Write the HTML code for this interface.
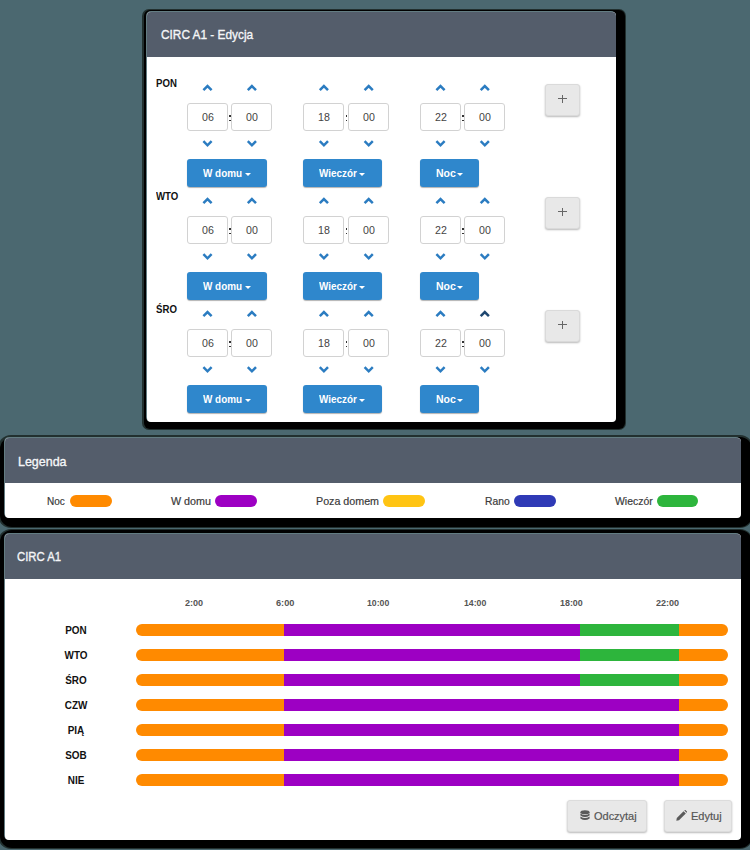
<!DOCTYPE html><html><head><meta charset="utf-8"><style>
*{box-sizing:border-box;margin:0;padding:0}
html,body{width:750px;height:850px;overflow:hidden;background:#4b6870;font-family:"Liberation Sans",sans-serif;position:relative}
div,span{position:absolute}
.t{white-space:nowrap;line-height:1;transform-origin:0 0}
.hs{-webkit-text-stroke:0.35px #f5f6f8}
.rs{-webkit-text-stroke:0.2px currentColor}
.inp{width:41px;height:27.8px;border:1px solid #d2d2d2;border-radius:3px;background:#fff}
.btn{height:28px;background:#2f87cc;border-radius:3px;box-shadow:0 1px 1px rgba(0,0,0,.30)}
.caret{width:0;height:0;border-left:3.2px solid transparent;border-right:3.2px solid transparent;border-top:3.4px solid #fff}
.plus{width:35px;height:32px;background:#e8e8e8;border:1px solid #dadada;border-radius:3px;box-shadow:0 1px 2px rgba(0,0,0,.28)}
.pill{height:12.4px;border-radius:6.2px;width:41.6px}
.bar{left:135.8px;width:592.2px;height:12.4px;border-radius:6.2px;overflow:hidden;background:#ff8a00}
.seg{top:0;height:100%}
.gbtn{height:31.5px;background:#e8e8e8;border:1px solid #dcdcdc;border-radius:3px;box-shadow:0 1px 2px rgba(0,0,0,.28)}
</style></head><body>
<div style="left:142.4px;top:8.8px;width:483.5999999999999px;height:421.0px;border-radius:7px;background:#22302f"></div>
<div style="left:143.6px;top:10px;width:481.19999999999993px;height:418.6px;border-radius:6px;background:#000"></div>
<div style="left:-1.7px;top:435.3px;width:754.9px;height:92.4px;border-radius:13px;background:#22302f"></div>
<div style="left:-0.5px;top:436.5px;width:752.5px;height:90.0px;border-radius:12px;background:#000"></div>
<div style="left:-1.7px;top:528.8px;width:754.9px;height:320.69999999999993px;border-radius:13px;background:#22302f"></div>
<div style="left:-0.5px;top:530px;width:752.5px;height:318.29999999999995px;border-radius:12px;background:#000"></div>
<div style="left:146px;top:11px;width:469.79999999999995px;height:411px;border-radius:5px;background:#637c82"></div>
<div style="left:147px;top:12px;width:468.79999999999995px;height:410px;border-radius:4px;background:#fff;overflow:hidden"><div style="left:0;top:0;width:100%;height:44.6px;background:#545d6b"></div></div>
<div style="left:4px;top:436.8px;width:737px;height:80.90000000000003px;border-radius:5px;background:#637c82"></div>
<div style="left:5px;top:437.8px;width:736px;height:79.90000000000003px;border-radius:4px;background:#fff;overflow:hidden"><div style="left:0;top:0;width:100%;height:45.39999999999998px;background:#545d6b"></div></div>
<div style="left:4px;top:532.8px;width:737px;height:307.20000000000005px;border-radius:5px;background:#637c82"></div>
<div style="left:5px;top:533.8px;width:736px;height:306.20000000000005px;border-radius:4px;background:#fff;overflow:hidden"><div style="left:0;top:0;width:100%;height:45.40000000000009px;background:#545d6b"></div></div>
<div class="inp" style="left:187px;top:103.1px"></div>
<div class="inp" style="left:231.4px;top:103.1px"></div>
<div style="left:229.4px;top:115.3px;width:1.6px;height:1.6px;background:#333"></div>
<div style="left:229.4px;top:119.6px;width:1.6px;height:1.6px;background:#333"></div>
<div class="btn" style="left:187px;top:159.2px;width:80.4px"></div>
<div class="caret" style="left:244.6px;top:173.2px"></div>
<div class="inp" style="left:303.4px;top:103.1px"></div>
<div class="inp" style="left:348.2px;top:103.1px"></div>
<div style="left:345.79999999999995px;top:115.3px;width:1.6px;height:1.6px;background:#333"></div>
<div style="left:345.79999999999995px;top:119.6px;width:1.6px;height:1.6px;background:#333"></div>
<div class="btn" style="left:303.4px;top:159.2px;width:78.6px"></div>
<div class="caret" style="left:359.2px;top:173.2px"></div>
<div class="inp" style="left:420px;top:103.1px"></div>
<div class="inp" style="left:464.3px;top:103.1px"></div>
<div style="left:462.4px;top:115.3px;width:1.6px;height:1.6px;background:#333"></div>
<div style="left:462.4px;top:119.6px;width:1.6px;height:1.6px;background:#333"></div>
<div class="btn" style="left:420px;top:159.2px;width:59px"></div>
<div class="caret" style="left:457.2px;top:173.2px"></div>
<div class="plus" style="left:545px;top:83.5px"></div>
<div style="left:558.3px;top:98.4px;width:8.3px;height:1.1px;background:#666"></div>
<div style="left:561.9px;top:94.5px;width:1.1px;height:8.5px;background:#666"></div>
<div class="inp" style="left:187px;top:216.1px"></div>
<div class="inp" style="left:231.4px;top:216.1px"></div>
<div style="left:229.4px;top:228.3px;width:1.6px;height:1.6px;background:#333"></div>
<div style="left:229.4px;top:232.6px;width:1.6px;height:1.6px;background:#333"></div>
<div class="btn" style="left:187px;top:272.2px;width:80.4px"></div>
<div class="caret" style="left:244.6px;top:286.2px"></div>
<div class="inp" style="left:303.4px;top:216.1px"></div>
<div class="inp" style="left:348.2px;top:216.1px"></div>
<div style="left:345.79999999999995px;top:228.3px;width:1.6px;height:1.6px;background:#333"></div>
<div style="left:345.79999999999995px;top:232.6px;width:1.6px;height:1.6px;background:#333"></div>
<div class="btn" style="left:303.4px;top:272.2px;width:78.6px"></div>
<div class="caret" style="left:359.2px;top:286.2px"></div>
<div class="inp" style="left:420px;top:216.1px"></div>
<div class="inp" style="left:464.3px;top:216.1px"></div>
<div style="left:462.4px;top:228.3px;width:1.6px;height:1.6px;background:#333"></div>
<div style="left:462.4px;top:232.6px;width:1.6px;height:1.6px;background:#333"></div>
<div class="btn" style="left:420px;top:272.2px;width:59px"></div>
<div class="caret" style="left:457.2px;top:286.2px"></div>
<div class="plus" style="left:545px;top:196.5px"></div>
<div style="left:558.3px;top:211.4px;width:8.3px;height:1.1px;background:#666"></div>
<div style="left:561.9px;top:207.5px;width:1.1px;height:8.5px;background:#666"></div>
<div class="inp" style="left:187px;top:329.1px"></div>
<div class="inp" style="left:231.4px;top:329.1px"></div>
<div style="left:229.4px;top:341.3px;width:1.6px;height:1.6px;background:#333"></div>
<div style="left:229.4px;top:345.6px;width:1.6px;height:1.6px;background:#333"></div>
<div class="btn" style="left:187px;top:385.2px;width:80.4px"></div>
<div class="caret" style="left:244.6px;top:399.2px"></div>
<div class="inp" style="left:303.4px;top:329.1px"></div>
<div class="inp" style="left:348.2px;top:329.1px"></div>
<div style="left:345.79999999999995px;top:341.3px;width:1.6px;height:1.6px;background:#333"></div>
<div style="left:345.79999999999995px;top:345.6px;width:1.6px;height:1.6px;background:#333"></div>
<div class="btn" style="left:303.4px;top:385.2px;width:78.6px"></div>
<div class="caret" style="left:359.2px;top:399.2px"></div>
<div class="inp" style="left:420px;top:329.1px"></div>
<div class="inp" style="left:464.3px;top:329.1px"></div>
<div style="left:462.4px;top:341.3px;width:1.6px;height:1.6px;background:#333"></div>
<div style="left:462.4px;top:345.6px;width:1.6px;height:1.6px;background:#333"></div>
<div class="btn" style="left:420px;top:385.2px;width:59px"></div>
<div class="caret" style="left:457.2px;top:399.2px"></div>
<div class="plus" style="left:545px;top:309.5px"></div>
<div style="left:558.3px;top:324.4px;width:8.3px;height:1.1px;background:#666"></div>
<div style="left:561.9px;top:320.5px;width:1.1px;height:8.5px;background:#666"></div>
<svg style="position:absolute;left:0;top:0" width="750" height="850"><polyline points="203.4,90.2 207.5,86.1 211.6,90.2" fill="none" stroke="#2b7cc1" stroke-width="2.5" stroke-linecap="butt" stroke-linejoin="miter"/><polyline points="203.4,141.20000000000002 207.5,145.3 211.6,141.20000000000002" fill="none" stroke="#2b7cc1" stroke-width="2.5" stroke-linecap="butt" stroke-linejoin="miter"/><polyline points="247.8,90.2 251.9,86.1 256.0,90.2" fill="none" stroke="#2b7cc1" stroke-width="2.5" stroke-linecap="butt" stroke-linejoin="miter"/><polyline points="247.8,141.20000000000002 251.9,145.3 256.0,141.20000000000002" fill="none" stroke="#2b7cc1" stroke-width="2.5" stroke-linecap="butt" stroke-linejoin="miter"/><polyline points="319.79999999999995,90.2 323.9,86.1 328.0,90.2" fill="none" stroke="#2b7cc1" stroke-width="2.5" stroke-linecap="butt" stroke-linejoin="miter"/><polyline points="319.79999999999995,141.20000000000002 323.9,145.3 328.0,141.20000000000002" fill="none" stroke="#2b7cc1" stroke-width="2.5" stroke-linecap="butt" stroke-linejoin="miter"/><polyline points="364.59999999999997,90.2 368.7,86.1 372.8,90.2" fill="none" stroke="#2b7cc1" stroke-width="2.5" stroke-linecap="butt" stroke-linejoin="miter"/><polyline points="364.59999999999997,141.20000000000002 368.7,145.3 372.8,141.20000000000002" fill="none" stroke="#2b7cc1" stroke-width="2.5" stroke-linecap="butt" stroke-linejoin="miter"/><polyline points="436.4,90.2 440.5,86.1 444.6,90.2" fill="none" stroke="#2b7cc1" stroke-width="2.5" stroke-linecap="butt" stroke-linejoin="miter"/><polyline points="436.4,141.20000000000002 440.5,145.3 444.6,141.20000000000002" fill="none" stroke="#2b7cc1" stroke-width="2.5" stroke-linecap="butt" stroke-linejoin="miter"/><polyline points="480.7,90.2 484.8,86.1 488.90000000000003,90.2" fill="none" stroke="#2b7cc1" stroke-width="2.5" stroke-linecap="butt" stroke-linejoin="miter"/><polyline points="480.7,141.20000000000002 484.8,145.3 488.90000000000003,141.20000000000002" fill="none" stroke="#2b7cc1" stroke-width="2.5" stroke-linecap="butt" stroke-linejoin="miter"/><polyline points="203.4,203.20000000000002 207.5,199.10000000000002 211.6,203.20000000000002" fill="none" stroke="#2b7cc1" stroke-width="2.5" stroke-linecap="butt" stroke-linejoin="miter"/><polyline points="203.4,254.20000000000002 207.5,258.3 211.6,254.20000000000002" fill="none" stroke="#2b7cc1" stroke-width="2.5" stroke-linecap="butt" stroke-linejoin="miter"/><polyline points="247.8,203.20000000000002 251.9,199.10000000000002 256.0,203.20000000000002" fill="none" stroke="#2b7cc1" stroke-width="2.5" stroke-linecap="butt" stroke-linejoin="miter"/><polyline points="247.8,254.20000000000002 251.9,258.3 256.0,254.20000000000002" fill="none" stroke="#2b7cc1" stroke-width="2.5" stroke-linecap="butt" stroke-linejoin="miter"/><polyline points="319.79999999999995,203.20000000000002 323.9,199.10000000000002 328.0,203.20000000000002" fill="none" stroke="#2b7cc1" stroke-width="2.5" stroke-linecap="butt" stroke-linejoin="miter"/><polyline points="319.79999999999995,254.20000000000002 323.9,258.3 328.0,254.20000000000002" fill="none" stroke="#2b7cc1" stroke-width="2.5" stroke-linecap="butt" stroke-linejoin="miter"/><polyline points="364.59999999999997,203.20000000000002 368.7,199.10000000000002 372.8,203.20000000000002" fill="none" stroke="#2b7cc1" stroke-width="2.5" stroke-linecap="butt" stroke-linejoin="miter"/><polyline points="364.59999999999997,254.20000000000002 368.7,258.3 372.8,254.20000000000002" fill="none" stroke="#2b7cc1" stroke-width="2.5" stroke-linecap="butt" stroke-linejoin="miter"/><polyline points="436.4,203.20000000000002 440.5,199.10000000000002 444.6,203.20000000000002" fill="none" stroke="#2b7cc1" stroke-width="2.5" stroke-linecap="butt" stroke-linejoin="miter"/><polyline points="436.4,254.20000000000002 440.5,258.3 444.6,254.20000000000002" fill="none" stroke="#2b7cc1" stroke-width="2.5" stroke-linecap="butt" stroke-linejoin="miter"/><polyline points="480.7,203.20000000000002 484.8,199.10000000000002 488.90000000000003,203.20000000000002" fill="none" stroke="#2b7cc1" stroke-width="2.5" stroke-linecap="butt" stroke-linejoin="miter"/><polyline points="480.7,254.20000000000002 484.8,258.3 488.90000000000003,254.20000000000002" fill="none" stroke="#2b7cc1" stroke-width="2.5" stroke-linecap="butt" stroke-linejoin="miter"/><polyline points="203.4,316.2 207.5,312.1 211.6,316.2" fill="none" stroke="#2b7cc1" stroke-width="2.5" stroke-linecap="butt" stroke-linejoin="miter"/><polyline points="203.4,367.2 207.5,371.3 211.6,367.2" fill="none" stroke="#2b7cc1" stroke-width="2.5" stroke-linecap="butt" stroke-linejoin="miter"/><polyline points="247.8,316.2 251.9,312.1 256.0,316.2" fill="none" stroke="#2b7cc1" stroke-width="2.5" stroke-linecap="butt" stroke-linejoin="miter"/><polyline points="247.8,367.2 251.9,371.3 256.0,367.2" fill="none" stroke="#2b7cc1" stroke-width="2.5" stroke-linecap="butt" stroke-linejoin="miter"/><polyline points="319.79999999999995,316.2 323.9,312.1 328.0,316.2" fill="none" stroke="#2b7cc1" stroke-width="2.5" stroke-linecap="butt" stroke-linejoin="miter"/><polyline points="319.79999999999995,367.2 323.9,371.3 328.0,367.2" fill="none" stroke="#2b7cc1" stroke-width="2.5" stroke-linecap="butt" stroke-linejoin="miter"/><polyline points="364.59999999999997,316.2 368.7,312.1 372.8,316.2" fill="none" stroke="#2b7cc1" stroke-width="2.5" stroke-linecap="butt" stroke-linejoin="miter"/><polyline points="364.59999999999997,367.2 368.7,371.3 372.8,367.2" fill="none" stroke="#2b7cc1" stroke-width="2.5" stroke-linecap="butt" stroke-linejoin="miter"/><polyline points="436.4,316.2 440.5,312.1 444.6,316.2" fill="none" stroke="#2b7cc1" stroke-width="2.5" stroke-linecap="butt" stroke-linejoin="miter"/><polyline points="436.4,367.2 440.5,371.3 444.6,367.2" fill="none" stroke="#2b7cc1" stroke-width="2.5" stroke-linecap="butt" stroke-linejoin="miter"/><polyline points="480.7,316.2 484.8,312.1 488.90000000000003,316.2" fill="none" stroke="#1f4770" stroke-width="2.5" stroke-linecap="butt" stroke-linejoin="miter"/><polyline points="480.7,367.2 484.8,371.3 488.90000000000003,367.2" fill="none" stroke="#2b7cc1" stroke-width="2.5" stroke-linecap="butt" stroke-linejoin="miter"/></svg>
<div class="pill" style="left:70px;top:494.6px;background:#ff8a00"></div>
<div class="pill" style="left:215.2px;top:494.6px;background:#9d00c3"></div>
<div class="pill" style="left:383.2px;top:494.6px;background:#ffc413"></div>
<div class="pill" style="left:514px;top:494.6px;background:#2f3ab6"></div>
<div class="pill" style="left:656.8px;top:494.6px;background:#2db53c"></div>
<div class="bar" style="top:624px"><div class="seg" style="left:148.05px;width:296.1px;background:#9d00c3"></div><div class="seg" style="left:444.15000000000003px;width:98.7px;background:#2db53c"></div></div>
<div class="bar" style="top:649px"><div class="seg" style="left:148.05px;width:296.1px;background:#9d00c3"></div><div class="seg" style="left:444.15000000000003px;width:98.7px;background:#2db53c"></div></div>
<div class="bar" style="top:674px"><div class="seg" style="left:148.05px;width:296.1px;background:#9d00c3"></div><div class="seg" style="left:444.15000000000003px;width:98.7px;background:#2db53c"></div></div>
<div class="bar" style="top:699px"><div class="seg" style="left:148.05px;width:394.8px;background:#9d00c3"></div></div>
<div class="bar" style="top:724px"><div class="seg" style="left:148.05px;width:394.8px;background:#9d00c3"></div></div>
<div class="bar" style="top:749px"><div class="seg" style="left:148.05px;width:394.8px;background:#9d00c3"></div></div>
<div class="bar" style="top:774px"><div class="seg" style="left:148.05px;width:394.8px;background:#9d00c3"></div></div>
<div class="gbtn" style="left:567.3px;top:800.2px;width:79.3px"></div>
<div class="gbtn" style="left:664px;top:800.2px;width:68.4px"></div>
<svg style="position:absolute;left:580px;top:809.5px" width="10" height="11" viewBox="0 0 10 11"><ellipse cx="5" cy="2.2" rx="4.6" ry="2" fill="#5a5a5a"/><path d="M0.4 3.6 Q5 6.6 9.6 3.6 V5.4 Q5 8.4 0.4 5.4Z" fill="#5a5a5a"/><path d="M0.4 6.6 Q5 9.6 9.6 6.6 V8.6 Q5 11.6 0.4 8.6Z" fill="#5a5a5a"/></svg>
<svg style="position:absolute;left:675.5px;top:809.8px" width="11" height="11" viewBox="0 0 11 11"><path d="M0.3 10.7 L0.8 8 L7.6 1.2 L9.8 3.4 L3 10.2Z" fill="#5a5a5a"/><path d="M8.3 0.5 L9.1 -0.3 L11.3 1.9 L10.5 2.7Z" fill="#5a5a5a"/></svg>
<span class="t hs" id="h1" style="left:160.6px;top:28.26px;font-size:13.4px;font-weight:normal;color:#f5f6f8;transform:scaleX(0.8846)">CIRC A1 - Edycja</span>
<span class="t hs" id="h2" style="left:17.6px;top:454.66px;font-size:13.4px;font-weight:normal;color:#f5f6f8;transform:scaleX(0.9308)">Legenda</span>
<span class="t hs" id="h3" style="left:17.2px;top:549.86px;font-size:13.4px;font-weight:normal;color:#f5f6f8;transform:scaleX(0.8462)">CIRC A1</span>
<span class="t" id="d0" style="left:156.4px;top:78.57px;font-size:10.2px;font-weight:bold;color:#111;transform:scaleX(0.9455)">PON</span>
<span class="t" id="n000" style="left:207.5px;top:111.92px;font-size:11.2px;font-weight:normal;color:#444;transform:translateX(-50%) scaleX(0.9500);transform-origin:50% 0">06</span>
<span class="t" id="n001" style="left:251.9px;top:111.92px;font-size:11.2px;font-weight:normal;color:#444;transform:translateX(-50%) scaleX(0.9500);transform-origin:50% 0">00</span>
<span class="t" id="b00" style="left:203px;top:168.43px;font-size:11.3px;font-weight:bold;color:#fff;transform:scaleX(0.8756)">W domu</span>
<span class="t" id="n010" style="left:323.9px;top:111.92px;font-size:11.2px;font-weight:normal;color:#444;transform:translateX(-50%) scaleX(0.9500);transform-origin:50% 0">18</span>
<span class="t" id="n011" style="left:368.7px;top:111.92px;font-size:11.2px;font-weight:normal;color:#444;transform:translateX(-50%) scaleX(0.9500);transform-origin:50% 0">00</span>
<span class="t" id="b01" style="left:319.4px;top:168.43px;font-size:11.3px;font-weight:bold;color:#fff;transform:scaleX(0.8744)">Wieczór</span>
<span class="t" id="n020" style="left:440.5px;top:111.92px;font-size:11.2px;font-weight:normal;color:#444;transform:translateX(-50%) scaleX(0.9500);transform-origin:50% 0">22</span>
<span class="t" id="n021" style="left:484.8px;top:111.92px;font-size:11.2px;font-weight:normal;color:#444;transform:translateX(-50%) scaleX(0.9500);transform-origin:50% 0">00</span>
<span class="t" id="b02" style="left:435.5px;top:168.43px;font-size:11.3px;font-weight:bold;color:#fff;transform:scaleX(0.9286)">Noc</span>
<span class="t" id="d1" style="left:156.4px;top:191.57px;font-size:10.2px;font-weight:bold;color:#111;transform:scaleX(0.9455)">WTO</span>
<span class="t" id="n100" style="left:207.5px;top:224.92px;font-size:11.2px;font-weight:normal;color:#444;transform:translateX(-50%) scaleX(0.9500);transform-origin:50% 0">06</span>
<span class="t" id="n101" style="left:251.9px;top:224.92px;font-size:11.2px;font-weight:normal;color:#444;transform:translateX(-50%) scaleX(0.9500);transform-origin:50% 0">00</span>
<span class="t" id="b10" style="left:203px;top:281.43px;font-size:11.3px;font-weight:bold;color:#fff;transform:scaleX(0.8756)">W domu</span>
<span class="t" id="n110" style="left:323.9px;top:224.92px;font-size:11.2px;font-weight:normal;color:#444;transform:translateX(-50%) scaleX(0.9500);transform-origin:50% 0">18</span>
<span class="t" id="n111" style="left:368.7px;top:224.92px;font-size:11.2px;font-weight:normal;color:#444;transform:translateX(-50%) scaleX(0.9500);transform-origin:50% 0">00</span>
<span class="t" id="b11" style="left:319.4px;top:281.43px;font-size:11.3px;font-weight:bold;color:#fff;transform:scaleX(0.8744)">Wieczór</span>
<span class="t" id="n120" style="left:440.5px;top:224.92px;font-size:11.2px;font-weight:normal;color:#444;transform:translateX(-50%) scaleX(0.9500);transform-origin:50% 0">22</span>
<span class="t" id="n121" style="left:484.8px;top:224.92px;font-size:11.2px;font-weight:normal;color:#444;transform:translateX(-50%) scaleX(0.9500);transform-origin:50% 0">00</span>
<span class="t" id="b12" style="left:435.5px;top:281.43px;font-size:11.3px;font-weight:bold;color:#fff;transform:scaleX(0.9286)">Noc</span>
<span class="t" id="d2" style="left:156.4px;top:304.57px;font-size:10.2px;font-weight:bold;color:#111;transform:scaleX(0.9455)">ŚRO</span>
<span class="t" id="n200" style="left:207.5px;top:337.92px;font-size:11.2px;font-weight:normal;color:#444;transform:translateX(-50%) scaleX(0.9500);transform-origin:50% 0">06</span>
<span class="t" id="n201" style="left:251.9px;top:337.92px;font-size:11.2px;font-weight:normal;color:#444;transform:translateX(-50%) scaleX(0.9500);transform-origin:50% 0">00</span>
<span class="t" id="b20" style="left:203px;top:394.43px;font-size:11.3px;font-weight:bold;color:#fff;transform:scaleX(0.8756)">W domu</span>
<span class="t" id="n210" style="left:323.9px;top:337.92px;font-size:11.2px;font-weight:normal;color:#444;transform:translateX(-50%) scaleX(0.9500);transform-origin:50% 0">18</span>
<span class="t" id="n211" style="left:368.7px;top:337.92px;font-size:11.2px;font-weight:normal;color:#444;transform:translateX(-50%) scaleX(0.9500);transform-origin:50% 0">00</span>
<span class="t" id="b21" style="left:319.4px;top:394.43px;font-size:11.3px;font-weight:bold;color:#fff;transform:scaleX(0.8744)">Wieczór</span>
<span class="t" id="n220" style="left:440.5px;top:337.92px;font-size:11.2px;font-weight:normal;color:#444;transform:translateX(-50%) scaleX(0.9500);transform-origin:50% 0">22</span>
<span class="t" id="n221" style="left:484.8px;top:337.92px;font-size:11.2px;font-weight:normal;color:#444;transform:translateX(-50%) scaleX(0.9500);transform-origin:50% 0">00</span>
<span class="t" id="b22" style="left:435.5px;top:394.43px;font-size:11.3px;font-weight:bold;color:#fff;transform:scaleX(0.9286)">Noc</span>
<span class="t rs" id="l0" style="left:47.4px;top:495.69px;font-size:11px;font-weight:normal;color:#3a3a3a;transform:scaleX(0.9100)">Noc</span>
<span class="t rs" id="l1" style="left:170.8px;top:495.69px;font-size:11px;font-weight:normal;color:#3a3a3a;transform:scaleX(0.9756)">W domu</span>
<span class="t rs" id="l2" style="left:316px;top:495.69px;font-size:11px;font-weight:normal;color:#3a3a3a;transform:scaleX(0.9723)">Poza domem</span>
<span class="t rs" id="l3" style="left:484.8px;top:495.69px;font-size:11px;font-weight:normal;color:#3a3a3a;transform:scaleX(0.9385)">Rano</span>
<span class="t rs" id="l4" style="left:614.8px;top:495.69px;font-size:11px;font-weight:normal;color:#3a3a3a;transform:scaleX(0.9500)">Wieczór</span>
<span class="t" id="t0" style="left:185px;top:598.91px;font-size:9.2px;font-weight:bold;color:#555;transform:scaleX(0.9833)">2:00</span>
<span class="t" id="t1" style="left:276px;top:598.91px;font-size:9.2px;font-weight:bold;color:#555;transform:scaleX(1.0000)">6:00</span>
<span class="t" id="t2" style="left:367.3px;top:598.91px;font-size:9.2px;font-weight:bold;color:#555;transform:scaleX(0.9458)">10:00</span>
<span class="t" id="t3" style="left:464px;top:598.91px;font-size:9.2px;font-weight:bold;color:#555;transform:scaleX(0.9500)">14:00</span>
<span class="t" id="t4" style="left:560px;top:598.91px;font-size:9.2px;font-weight:bold;color:#555;transform:scaleX(0.9667)">18:00</span>
<span class="t" id="t5" style="left:656px;top:598.91px;font-size:9.2px;font-weight:bold;color:#555;transform:scaleX(0.9833)">22:00</span>
<span class="t" id="c0" style="left:76.4px;top:624.69px;font-size:11px;font-weight:bold;color:#111;transform:translateX(-50%) scaleX(0.9000);transform-origin:50% 0">PON</span>
<span class="t" id="c1" style="left:76.4px;top:649.69px;font-size:11px;font-weight:bold;color:#111;transform:translateX(-50%) scaleX(0.9000);transform-origin:50% 0">WTO</span>
<span class="t" id="c2" style="left:76.4px;top:674.69px;font-size:11px;font-weight:bold;color:#111;transform:translateX(-50%) scaleX(0.9000);transform-origin:50% 0">ŚRO</span>
<span class="t" id="c3" style="left:76.4px;top:699.69px;font-size:11px;font-weight:bold;color:#111;transform:translateX(-50%) scaleX(0.9000);transform-origin:50% 0">CZW</span>
<span class="t" id="c4" style="left:76.4px;top:724.69px;font-size:11px;font-weight:bold;color:#111;transform:translateX(-50%) scaleX(0.9000);transform-origin:50% 0">PIĄ</span>
<span class="t" id="c5" style="left:76.4px;top:749.69px;font-size:11px;font-weight:bold;color:#111;transform:translateX(-50%) scaleX(0.9000);transform-origin:50% 0">SOB</span>
<span class="t" id="c6" style="left:76.4px;top:774.69px;font-size:11px;font-weight:bold;color:#111;transform:translateX(-50%) scaleX(0.9000);transform-origin:50% 0">NIE</span>
<span class="t rs" id="o1" style="left:594.1px;top:811.03px;font-size:11.3px;font-weight:normal;color:#555;transform:scaleX(0.9705)">Odczytaj</span>
<span class="t rs" id="o2" style="left:690.9px;top:811.03px;font-size:11.3px;font-weight:normal;color:#555;transform:scaleX(0.9774)">Edytuj</span>
</body></html>
